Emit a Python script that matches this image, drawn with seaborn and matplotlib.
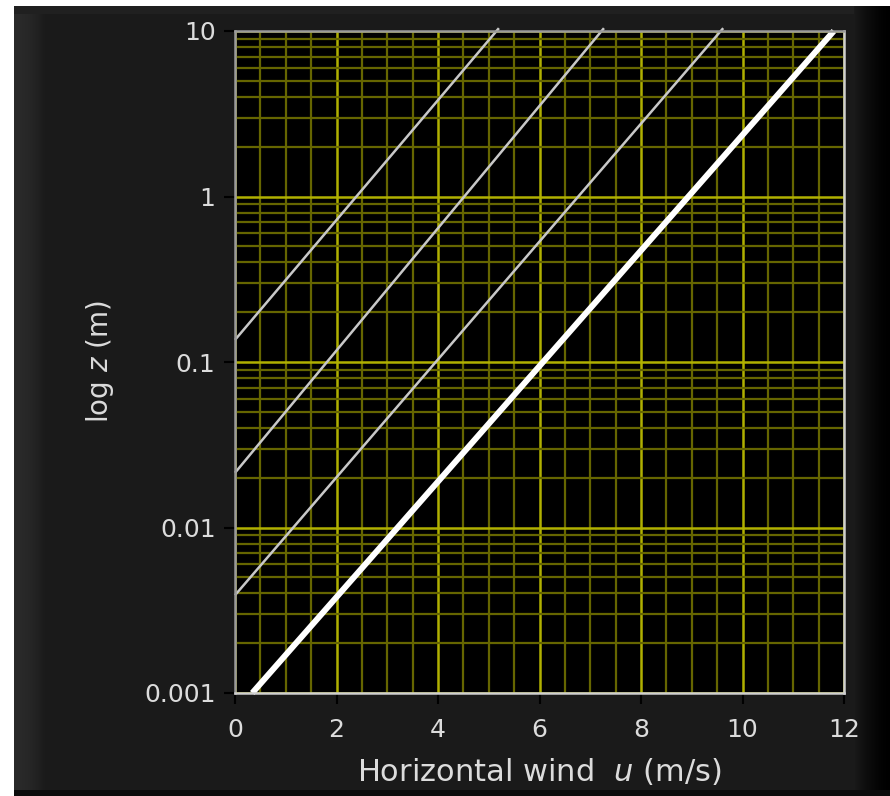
import numpy as np
import pandas as pd
import matplotlib
matplotlib.use("Agg")
import matplotlib.pyplot as plt
import matplotlib.ticker as mticker
from matplotlib.patches import Rectangle
import seaborn as sns

# Wind profiles: endpoints (u in m/s, z in m) of each log-law line
profile_names = ["z0 = 0.14 m", "z0 = 0.021 m", "z0 = 0.0039 m", "z0 = 0.0009 m"]
u_start = [0.0, 0.0, 0.0, 0.34]
z_start = [0.136, 0.0214, 0.0039, 0.001]
u_end = [5.2, 7.27, 9.62, 11.8]
z_end = [10.4, 10.4, 10.4, 10.0]

x_ticks = [0, 2, 4, 6, 8, 10, 12]
y_ticks = [0.001, 0.01, 0.1, 1, 10]
y_tick_labels = ["0.001", "0.01", "0.1", "1", "10"]

sns.set_theme(style="dark")
plt.rcParams["font.family"] = ["DejaVu Sans"]
plt.rcParams["mathtext.fontset"] = "dejavusans"

BG = "#1a1a1a"
TXT = "#dcdcdc"

fig = plt.figure(figsize=(8.9, 7.96), dpi=100, facecolor=BG)

# window frame: white margin at top/left, shaded bands at the sides
W, H = 890, 796
def px_rect(x0, y0, w, h, color):
    fig.patches.append(Rectangle((x0 / W, 1 - (y0 + h) / H), w / W, h / H,
                                 transform=fig.transFigure, facecolor=color,
                                 edgecolor="none", zorder=-10))

px_rect(0, 0, W, 6, "white")
px_rect(0, 0, 14, H, "white")
for i in range(32):
    g = int(0x2a - (0x2a - 0x1a) * (i / 31) ** 2)
    px_rect(14 + i, 6, 1.2, H - 6, "#%02x%02x%02x" % (g, g, g))
for i in range(36):
    g = int(0x1a * (1 - i / 35) ** 1.5)
    px_rect(854 + i, 6, 1.2, H - 6, "#%02x%02x%02x" % (g, g, g))
px_rect(14, 6, 840, 8, "#202020")
px_rect(14, 790, 876, 6, "#0c0c0c")

ax = fig.add_axes([235 / W, 1 - 693 / H, (844 - 235) / W, (693 - 31) / H])
ax.set_facecolor("black")
ax.set_yscale("log")
ax.set_xlim(0, 12)
ax.set_ylim(0.001, 10)

# grid
ax.xaxis.set_minor_locator(mticker.MultipleLocator(0.5))
ax.yaxis.set_minor_locator(mticker.LogLocator(base=10, subs=np.arange(2, 10)))
ax.yaxis.set_minor_formatter(mticker.NullFormatter())
ax.grid(which="minor", color="#666600", linewidth=1.6, zorder=0)
ax.grid(which="major", color="#b0b000", linewidth=1.8, zorder=0)
ax.set_axisbelow(True)

for i, name in enumerate(profile_names):
    df = pd.DataFrame({"u": [u_start[i], u_end[i]], "z": [z_start[i], z_end[i]]})
    thick = i == len(profile_names) - 1
    sns.lineplot(data=df, x="u", y="z", ax=ax, sort=False,
                 color="white" if thick else "#c8c8c8",
                 linewidth=4.3 if thick else 1.8, clip_on=False,
                 solid_capstyle="butt", zorder=5)

ax.set_xticks(x_ticks)
ax.set_xticklabels([str(t) for t in x_ticks])
ax.set_yticks(y_ticks)
ax.set_yticklabels(y_tick_labels)
ax.tick_params(which="major", direction="out", length=8, width=1.5,
               color="black", labelcolor=TXT, labelsize=18, pad=6,
               bottom=True, left=True)
ax.tick_params(axis="x", which="major", pad=10)
ax.tick_params(which="minor", length=0)

for side, sp in ax.spines.items():
    sp.set_visible(True)
    sp.set_color("#9a9a9a" if side in ("left", "top") else "#cfcfcf")
    sp.set_linewidth(1.8)
    sp.set_zorder(6)

ax.set_xlabel("Horizontal wind  $u$ (m/s)", color=TXT, fontsize=22, labelpad=10)
ax.set_ylabel("log $z$ (m)", color=TXT, fontsize=20, labelpad=20)

fig.savefig("out.png", dpi=100, facecolor=BG)
